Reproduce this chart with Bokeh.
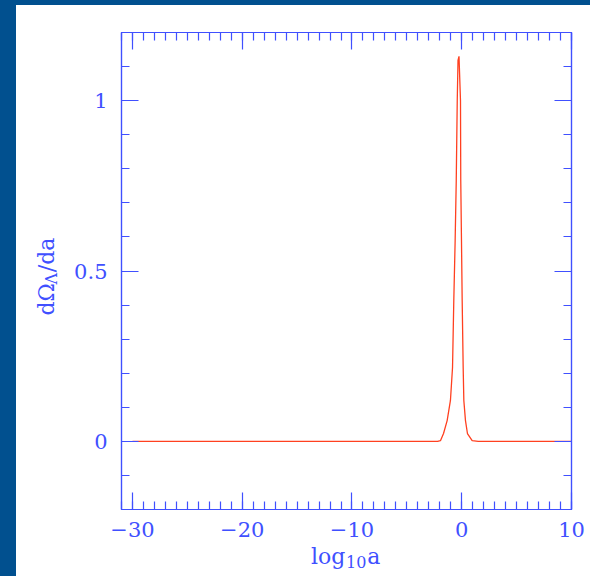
import numpy as np
from bokeh.plotting import figure
from bokeh.models import LinearAxis, FixedTicker, Label, ColumnDataSource
from bokeh.layouts import column
from bokeh.embed import file_html
from bokeh.resources import INLINE

# ---- data ----
log_a = [-30, -10, -3, -2.2, -1.94, -1.66, -1.33, -1.03, -0.84, -0.725, -0.60, -0.50,
         -0.41, -0.34, -0.25, -0.114, -0.09, -0.024, 0.04, 0.13, 0.19, 0.34, 0.52, 0.95,
         1.5, 5, 10]
dOmega_da = [0, 0, 0, 0, 0.002, 0.023, 0.061, 0.12, 0.217, 0.413, 0.59, 0.766,
             1.0, 1.118, 1.13, 1.0, 0.766, 0.59, 0.413, 0.217, 0.12, 0.061, 0.023, 0.002,
             0, 0, 0]

x_major = [-30, -20, -10, 0, 10]
x_labels = ["\u221230", "\u221220", "\u221210", "0", "10"]
y_major = [0, 0.5, 1]
y_labels = ["0", "0.5", "1"]

BLUE = "#4050ff"
RED = "#ff4020"
FRAME_BLUE = "#01508f"
FONT = "DejaVu Serif"

p = figure(width=590, height=576, x_range=(-31, 10), y_range=(-0.2, 1.2),
           x_axis_type=None, y_axis_type=None,
           min_border_left=121, min_border_right=19, min_border_top=32, min_border_bottom=67,
           output_backend="svg", toolbar_location=None)
p.grid.visible = False
p.outline_line_color = BLUE
p.outline_line_width = 1.2
p.background_fill_color = "white"
p.border_fill_color = None

xt = FixedTicker(ticks=x_major, minor_ticks=list(np.arange(-31, 11, 1)))
yt = FixedTicker(ticks=y_major, minor_ticks=list(np.round(np.arange(-0.2, 1.21, 0.1), 2)))


def style(ax, labels=None):
    ax.axis_line_color = BLUE
    ax.axis_line_width = 1.2
    ax.major_tick_line_color = BLUE
    ax.minor_tick_line_color = BLUE
    ax.major_tick_line_width = 1.2
    ax.minor_tick_line_width = 1.2
    ax.major_tick_in = 17
    ax.major_tick_out = 0
    ax.minor_tick_in = 8
    ax.minor_tick_out = 0
    ax.major_label_text_font = FONT
    ax.major_label_text_font_size = "21px"
    ax.major_label_text_color = BLUE
    if labels is None:
        ax.major_label_text_alpha = 0
        ax.major_label_text_font_size = "1px"
        ax.major_label_standoff = 0
    else:
        ax.major_label_overrides = labels


bx = LinearAxis(ticker=xt)
style(bx, {k: v for k, v in zip(x_major, x_labels)})
bx.major_label_standoff = 12
p.add_layout(bx, "below")

tx = LinearAxis(ticker=xt)
style(tx)
p.add_layout(tx, "above")

ly = LinearAxis(ticker=yt)
style(ly, {k: v for k, v in zip(y_major, y_labels)})
ly.major_label_standoff = 14
p.add_layout(ly, "left")

ry = LinearAxis(ticker=yt)
style(ry)
p.add_layout(ry, "right")

src = ColumnDataSource(dict(x=log_a, y=dOmega_da))
p.line("x", "y", source=src, line_color=RED, line_width=1.3)


def lab(x, y, text, size, place, angle=0.0):
    p.add_layout(Label(x=x, y=y, text=text,
                       text_font=FONT, text_font_size=size, text_color=BLUE,
                       text_align="left", text_baseline="alphabetic", angle=angle), place)


# x title: log_10 a  (em space leaves room for the subscript)
lab(-13.74, -0.338, "log\u2003a", "22px", "below")
lab(-10.55, -0.3527, "10", "16px", "left")

# y title: dΩ_Λ/da (rotated; en space leaves room for the subscript)
ang = np.pi / 2
lab(-37.83, 0.3694, "d\u03a9\u2002/da", "22px", "left", ang)
lab(-37.38, 0.4603, "\u039b", "16px", "left", ang)

layout = column(p, styles={
    "background": f"linear-gradient(to bottom, {FRAME_BLUE} 5px, transparent 5px), "
                  f"linear-gradient(to right, {FRAME_BLUE} 16px, #ffffff 16px)"})

open("out.html", "w").write(file_html(layout, INLINE))
